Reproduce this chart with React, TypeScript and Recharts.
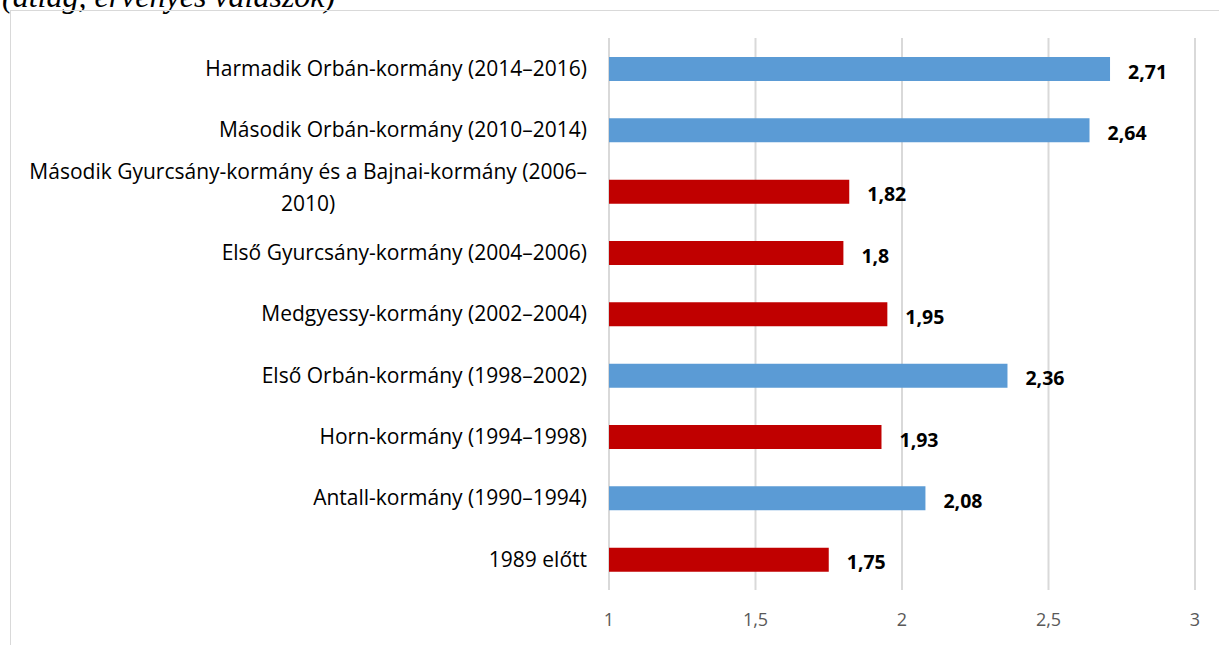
import { BarChart, Bar, XAxis, YAxis, CartesianGrid, Cell, LabelList } from "recharts";

// kormányok, felülről lefelé
const kormanyok = [
  "Harmadik Orbán-kormány (2014–2016)",
  "Második Orbán-kormány (2010–2014)",
  "Második Gyurcsány-kormány és a Bajnai-kormány (2006–2010)",
  "Első Gyurcsány-kormány (2004–2006)",
  "Medgyessy-kormány (2002–2004)",
  "Első Orbán-kormány (1998–2002)",
  "Horn-kormány (1994–1998)",
  "Antall-kormány (1990–1994)",
  "1989 előtt",
];
const atlagok = [2.71, 2.64, 1.82, 1.8, 1.95, 2.36, 1.93, 2.08, 1.75];
const oldal = ["jobb", "jobb", "bal", "bal", "bal", "jobb", "bal", "jobb", "bal"];
const xTicks = [1, 1.5, 2, 2.5, 3];

const szinek: Record<string, string> = { jobb: "#5B9BD5", bal: "#C00000" };
const FONT = "'Open Sans', sans-serif";
const LABEL_SIZE = 21;

const data = kormanyok.map((nev, i) => ({ nev, ertek: atlagok[i], oldal: oldal[i] }));

const fmt = (v: number) => String(v).replace(".", ",");

let ctx: CanvasRenderingContext2D | null = null;
function measure(s: string, font: string) {
  if (!ctx) ctx = document.createElement("canvas").getContext("2d");
  if (!ctx) return s.length * 10;
  ctx.font = font;
  return ctx.measureText(s).width;
}

function YTick(props: any) {
  const { x, y, payload } = props;
  const label: string = payload.value;
  const right = x - 14;
  const style = { fontFamily: FONT, fontSize: LABEL_SIZE, fill: "#000" };
  if (label.length > 45) {
    // tördelés a "2006–" után, mint az eredetiben
    const cut = label.lastIndexOf("–") + 1;
    const l1 = label.slice(0, cut);
    const l2 = label.slice(cut);
    const w = measure(l1, `${LABEL_SIZE}px ${FONT}`);
    const cx = right - w / 2;
    return (
      <g>
        <text x={cx} y={y - 20} dy="0.35em" textAnchor="middle" {...style}>{l1}</text>
        <text x={cx} y={y + 12} dy="0.35em" textAnchor="middle" {...style}>{l2}</text>
      </g>
    );
  }
  return (
    <text x={right} y={y} dy="0.35em" textAnchor="end" {...style}>{label}</text>
  );
}

function XTick(props: any) {
  const { x, y, payload } = props;
  return (
    <text x={x} y={y + 28} textAnchor="middle" fontFamily={FONT} fontSize={18} fill="#595959">
      {fmt(payload.value)}
    </text>
  );
}

function ValueLabel(props: any) {
  const { x, y, width, height, value } = props;
  return (
    <text x={x + width + 18} y={y + height / 2 + 3} dy="0.35em" fontFamily={FONT} fontSize={19.5} fontWeight="bold" fill="#000">
      {fmt(value)}
    </text>
  );
}

export default function App() {
  return (
    <div style={{ position: "relative", width: 1219, height: 645, overflow: "hidden", background: "#fff" }}>
      <style>{`body{margin:0}`}</style>
      <svg width={1219} height={20} style={{ position: "absolute", left: 0, top: 0 }}>
        <text x={2} y={7} fontFamily="'Liberation Serif', serif" fontStyle="italic" fontSize={32} fill="#000">
          (átlag, érvényes válaszok)
        </text>
      </svg>
      <div style={{ position: "absolute", left: 10, top: 10, width: 1240, height: 700, border: "1px solid #d9d9d9" }} />
      <div style={{ position: "absolute", left: 0, top: 0 }}>
        <BarChart
          width={1219}
          height={645}
          data={data}
          layout="vertical"
          margin={{ top: 38, right: 24, bottom: 0, left: 0 }}
        >
          <CartesianGrid horizontal={false} stroke="#d9d9d9" strokeWidth={2} />
          <XAxis
            type="number"
            domain={[1, 3]}
            ticks={xTicks}
            height={55}
            axisLine={false}
            tickLine={false}
            tick={<XTick />}
            interval={0}
          />
          <YAxis
            type="category"
            dataKey="nev"
            width={609}
            axisLine={false}
            tickLine={false}
            tick={<YTick />}
            interval={0}
          />
          <Bar dataKey="ertek" barSize={24} isAnimationActive={false}>
            {data.map((d, i) => (
              <Cell key={i} fill={szinek[d.oldal]} />
            ))}
            <LabelList dataKey="ertek" content={<ValueLabel />} />
          </Bar>
        </BarChart>
      </div>
    </div>
  );
}
